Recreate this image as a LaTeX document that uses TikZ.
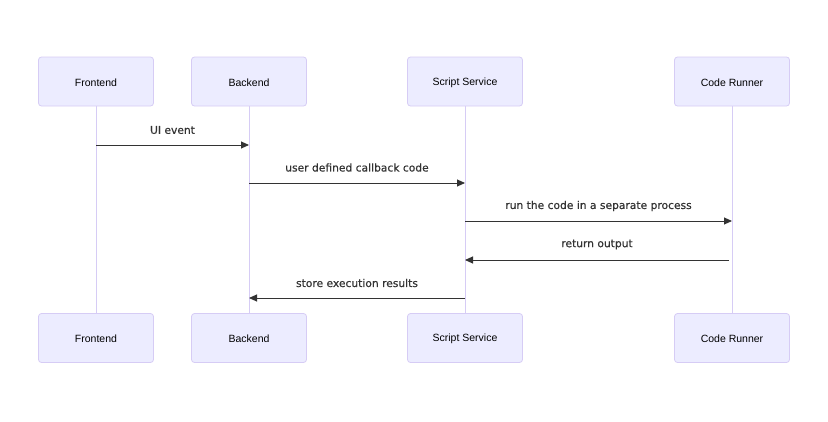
\documentclass[tikz,border=0pt]{standalone}
\usepackage{fontspec}
\setmainfont{Liberation Sans}
\newfontfamily\msgfont[FakeBold=0.6]{DejaVu Sans}
\usetikzlibrary{arrows.meta}
\definecolor{actfill}{HTML}{ECECFF}
\definecolor{actline}{HTML}{D6CCF5}
\definecolor{lifeline}{HTML}{D6CCF5}
\definecolor{msgcol}{HTML}{333333}
\tikzset{
  actor/.style={draw=actline, fill=actfill, rounded corners=3pt, minimum width=115pt, minimum height=49pt, inner sep=0pt, font=\fontsize{10.5}{12}\selectfont, text=black, line width=0.8pt},
  actlbl/.style={font=\fontsize{10.5}{12}\selectfont, text=black, inner sep=0pt},
  life/.style={draw=lifeline, line width=1pt},
  msg/.style={draw=msgcol, line width=0.9pt, -{Triangle[length=8pt,width=7pt]}},
  lbl/.style={font=\msgfont\fontsize{10.7}{12}\selectfont, text=msgcol, inner sep=0pt},
}
\begin{document}
\begin{tikzpicture}[x=1pt,y=-1pt]
\useasboundingbox (0,0) rectangle (828,421);
% lifelines
\coordinate (fa) at (96,106); \coordinate (fb) at (96,313);
\coordinate (ba) at (249,106); \coordinate (bb) at (249,313);
\coordinate (sa) at (465,106); \coordinate (sb) at (465,313);
\coordinate (ca) at (732,106); \coordinate (cb) at (732,313);
\draw[life] (fa) -- (fb);
\draw[life] (ba) -- (bb);
\draw[life] (sa) -- (sb);
\draw[life] (ca) -- (cb);
% actors
\node[actor] (f1) at (96,81.5) {};
\node[actor] (b1) at (249,81.5) {};
\node[actor] (s1) at (465,81.5) {};
\node[actor] (c1) at (732,81.5) {};
\node[actor] (f2) at (96,338) {};
\node[actor] (b2) at (249,338) {};
\node[actor] (s2) at (465,338) {};
\node[actor] (c2) at (732,338) {};
\node[actlbl] (tf1) at ([yshift=-1pt]f1.center) {Frontend};
\node[actlbl] (tb1) at ([yshift=-1pt]b1.center) {Backend};
\node[actlbl] (ts1) at ([yshift=-1pt]s1.center) {Script Service};
\node[actlbl] (tc1) at ([yshift=-1pt]c1.center) {Code Runner};
\node[actlbl] (tf2) at ([yshift=-1pt]f2.center) {Frontend};
\node[actlbl] (tb2) at ([yshift=-1pt]b2.center) {Backend};
\node[actlbl] (ts2) at ([yshift=-1pt]s2.center) {Script Service};
\node[actlbl] (tc2) at ([yshift=-1pt]c2.center) {Code Runner};
% messages
\coordinate (m1a) at (96,145); \coordinate (m1b) at (249,145);
\coordinate (m2a) at (249,183); \coordinate (m2b) at (465,183);
\coordinate (m3a) at (465,221); \coordinate (m3b) at (732,221);
\coordinate (m4a) at (729,260); \coordinate (m4b) at (465,260);
\coordinate (m5a) at (465,298); \coordinate (m5b) at (249,298);
\draw[msg] (m1a) -- (m1b);
\draw[msg] (m2a) -- (m2b);
\draw[msg] (m3a) -- (m3b);
\draw[msg] (m4a) -- (m4b);
\draw[msg] (m5a) -- (m5b);
\node[lbl] (l1) at (172.5,130) {UI event};
\node[lbl] (l2) at (357,167.5) {user defined callback code};
\node[lbl] (l3) at (598.5,206) {run the code in a separate process};
\node[lbl] (l4) at (597,244.5) {return output};
\node[lbl] (l5) at (357,283) {store execution results};
\end{tikzpicture}
\end{document}
